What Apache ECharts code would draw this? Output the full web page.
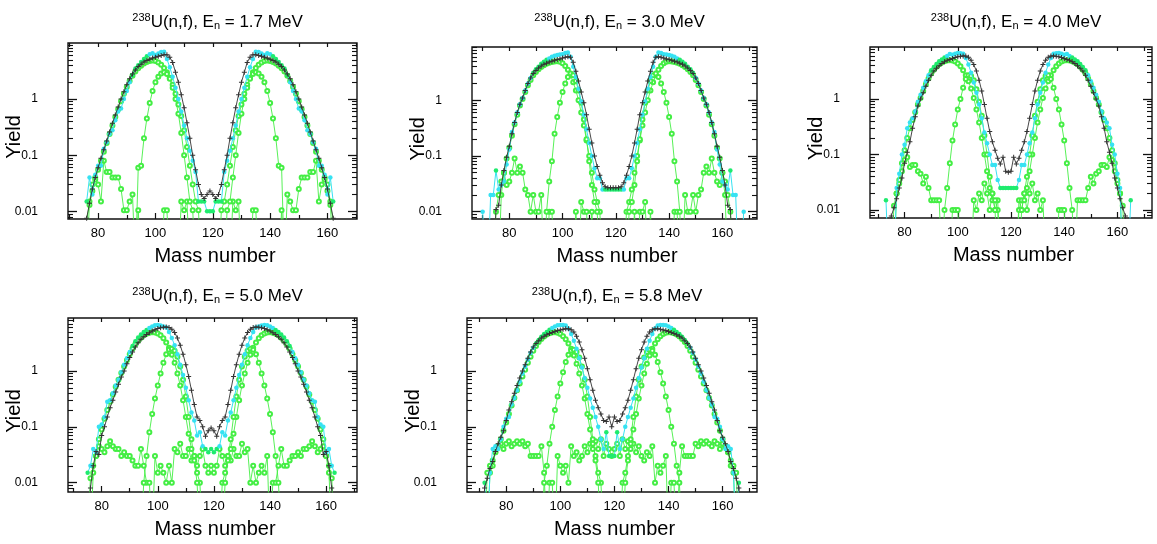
<!DOCTYPE html>
<html>
<head>
<meta charset="UTF-8">
<title>238U(n,f) mass yields</title>
<script src="https://cdn.jsdelivr.net/npm/echarts/dist/echarts.min.js"></script>
<style>
  html, body { margin: 0; padding: 0; background: #fff; }
  #main { width: 1157px; height: 544px; }
</style>
</head>
<body>
<div id="main"></div>
<script>
// neutron energy of each panel (MeV)
var energies = ['1.7', '3.0', '4.0', '5.0', '5.8'];

// axis ticks
var xMajorTicks = [80, 100, 120, 140, 160];
var xMinorTicks = [70, 90, 110, 130, 150, 170];
var xTopTicks = [70, 80, 90, 100, 110, 120, 130, 140, 150, 160, 170];
var yMajorTicks = [0.01, 0.1, 1];
var yMinorTicks = [0.008, 0.009, 0.02, 0.03, 0.04, 0.05, 0.06, 0.07, 0.08, 0.09,
  0.2, 0.3, 0.4, 0.5, 0.6, 0.7, 0.8, 0.9, 2, 3, 4, 5, 6, 7, 8, 9];

// yields per mass number A, starting at the given A; 0.001 = below the frame, null = no point
// ---- En = 1.7 MeV
var p1TotalStart = 75;
var p1Total = [0.001, 0.0075, 0.014, 0.025, 0.04, 0.06, 0.088, 0.125, 0.18, 0.26, 0.37, 0.52, 0.72, 1.0, 1.35, 1.8, 2.3, 2.8, 3.3, 3.8, 4.2, 4.6, 4.9, 5.15, 5.4, 5.6, 5.8, 6.0, 6.2, 6.2, 5.6, 4.5, 3.0, 2.0, 1.2, 0.7, 0.38, 0.2, 0.1, 0.055, 0.03, 0.02, 0.017, 0.02, 0.023,
  0.02, 0.017, 0.02, 0.03, 0.055, 0.1, 0.2, 0.38, 0.7, 1.2, 2.0, 3.0, 4.5, 5.6, 6.2, 6.2, 6.0, 5.8, 5.6, 5.4, 5.15, 4.9, 4.6, 4.2, 3.8, 3.3, 2.8, 2.3, 1.8, 1.35, 1.0, 0.72, 0.52, 0.37, 0.26, 0.18, 0.125, 0.088, 0.06, 0.04, 0.025, 0.014, 0.0075, 0.001];
var p1ExpStart = 76;
var p1Exp = [0.015, 0.04, 0.02, 0.045, 0.065, 0.065, 0.13, 0.17, 0.24, 0.28, 0.42, 0.6, 0.68, 1.0, 1.4, 2.0, 2.7, 3.5, 4.0, 4.6, 5.2, 5.8, 6.3, 6.6, 6.1, 6.5, 6.9, 7.0, 5.2, 3.7, 2.5, 1.6, 1.0, 0.6, 0.34, 0.2, 0.12, 0.08, 0.05,
  0.015, 0.015, 0.015, 0.01, 0.01, 0.01, 0.015, 0.015, 0.015,
  0.05, 0.08, 0.12, 0.2, 0.34, 0.6, 1.0, 1.6, 2.5, 3.7, 5.2, 7.0, 6.9, 6.5, 6.1, 6.6, 6.3, 5.8, 5.2, 4.6, 4.0, 3.5, 2.7, 2.0, 1.4, 1.0, 0.68, 0.6, 0.42, 0.28, 0.24, 0.17, 0.13, 0.065, 0.065, 0.045, 0.02, 0.04, 0.015];
var p1ExpGreen = [76, 92, 93, 94, 95, 96, 97, 115, 116, 117, 118, 119, 120, 121, 122, 123, 141, 142, 143, 144, 145, 146, 162];
var p1Std1Start = 93;
var p1Std1 = [0.001, 0.06, 0.065, 0.2, 0.45, 0.85, 1.4, 2.0, 2.5, 2.85, 3.0, 2.8, 2.3, 1.6, 1.0, 0.55, 0.25, 0.1, 0.04, 0.015, 0.0105, 0.001,
  null, null, null, null, null, null, null, null, null,
  0.001, 0.0105, 0.015, 0.04, 0.1, 0.25, 0.55, 1.0, 1.6, 2.3, 2.8, 3.0, 2.85, 2.5, 2.0, 1.4, 0.85, 0.45, 0.2, 0.065, 0.06, 0.001];
var p1Std2Start = 75;
var p1Std2 = [0.001, 0.007, 0.013, 0.023, 0.037, 0.055, 0.08, 0.115, 0.165, 0.24, 0.34, 0.48, 0.66, 0.92, 1.25, 1.65, 2.1, 2.6, 3.1, 3.55, 3.95, 4.3, 4.6, 4.8, 4.9, 4.8, 4.5, 4.1, 3.6, 3.0, 2.4, 1.8, 1.25, 0.8, 0.5, 0.28, 0.14, 0.065, 0.03, 0.015, 0.0105, 0.001,
  null, null, null, null, null,
  0.001, 0.0105, 0.015, 0.03, 0.065, 0.14, 0.28, 0.5, 0.8, 1.25, 1.8, 2.4, 3.0, 3.6, 4.1, 4.5, 4.8, 4.9, 4.8, 4.6, 4.3, 3.95, 3.55, 3.1, 2.6, 2.1, 1.65, 1.25, 0.92, 0.66, 0.48, 0.34, 0.24, 0.165, 0.115, 0.08, 0.055, 0.037, 0.023, 0.013, 0.007, 0.001];
var p1Std3Start = 76;
var p1Std3 = [0.001, 0.015, 0.03, 0.04, 0.03, 0.015, 0.08, 0.05, 0.05, 0.04, 0.04, 0.04, 0.025, 0.0105, 0.0105, 0.015, 0.02, 0.001, 0.0105, 0.001,
  null, null, null, null, null, null, 0.001, 0.0105, 0.0105, 0.001, null, null, 0.001, 0.015, 0.0105, 0.015, 0.001,
  null, null, null, null, null, null, null, null, null, null, null, null, null,
  0.001, 0.015, 0.0105, 0.015, 0.001, null, null, 0.001, 0.0105, 0.0105, 0.001, null, null, null, null, null, null,
  0.001, 0.0105, 0.001, 0.02, 0.015, 0.0105, 0.0105, 0.025, 0.04, 0.04, 0.04, 0.05, 0.05, 0.08, 0.015, 0.03, 0.04, 0.03, 0.015, 0.001];

// ---- En = 3.0 MeV
var p2TotalStart = 74;
var p2Total = [0.001, 0.011, 0.013, 0.03, 0.055, 0.095, 0.15, 0.25, 0.4, 0.6, 0.85, 1.1, 1.5, 2.0, 2.5, 3.0, 3.4, 3.8, 4.1, 4.4, 4.6, 4.85, 5.0, 5.2, 5.35, 5.5, 5.7, 5.9, 6.0, 5.9, 4.8, 3.3, 2.2, 1.4, 0.9, 0.55, 0.3, 0.17, 0.1, 0.065, 0.045, 0.033, 0.028, 0.027, 0.027, 0.027,
  0.027, 0.027, 0.028, 0.033, 0.045, 0.065, 0.1, 0.17, 0.3, 0.55, 0.9, 1.4, 2.2, 3.3, 4.8, 5.9, 6.0, 5.9, 5.7, 5.5, 5.35, 5.2, 5.0, 4.85, 4.6, 4.4, 4.1, 3.8, 3.4, 3.0, 2.5, 2.0, 1.5, 1.1, 0.85, 0.6, 0.4, 0.25, 0.15, 0.095, 0.055, 0.03, 0.013, 0.011, 0.001];
var p2ExpStart = 70;
var p2Exp = [0.01, 0.001, 0.001, 0.02, 0.02, 0.055, 0.025, 0.03, 0.035, 0.07, 0.13, 0.27, 0.4, 0.6, 0.85, 1.1, 1.5, 2.0, 2.5, 3.1, 3.6, 4.0, 4.5, 4.9, 5.3, 5.6, 6.0, 6.3, 6.5, 6.6, 6.7, 7.0, 7.2, 6.0, 4.0, 2.6, 1.6, 0.95, 0.55, 0.3, 0.17, 0.1, 0.06, 0.04, 0.04, 0.025, 0.025, 0.025, 0.025, 0.025,
  0.025, 0.025, 0.025, 0.025, 0.04, 0.04, 0.06, 0.1, 0.17, 0.3, 0.55, 0.95, 1.6, 2.6, 4.0, 6.0, 7.2, 7.0, 6.7, 6.6, 6.5, 6.3, 6.0, 5.6, 5.3, 4.9, 4.5, 4.0, 3.6, 3.1, 2.5, 2.0, 1.5, 1.1, 0.85, 0.6, 0.4, 0.27, 0.13, 0.07, 0.035, 0.03, 0.025, 0.055, 0.02, 0.02, 0.001, 0.001, 0.01];
var p2ExpGreen = [75, 89, 90, 91, 92, 93, 94, 116, 117, 118, 119, 120, 121, 122, 144, 145, 146, 147, 148, 149, 163];
var p2Std1Start = 93;
var p2Std1 = [0.001, 0.01, 0.035, 0.08, 0.25, 0.5, 0.9, 1.4, 2.0, 2.6, 3.0, 2.8, 2.2, 1.5, 0.9, 0.45, 0.2, 0.08, 0.03, 0.015, 0.01, 0.001,
  null, null, null, null, null, null, null, null, null,
  0.001, 0.01, 0.015, 0.03, 0.08, 0.2, 0.45, 0.9, 1.5, 2.2, 2.8, 3.0, 2.6, 2.0, 1.4, 0.9, 0.5, 0.25, 0.08, 0.035, 0.01, 0.001];
var p2Std2Start = 74;
var p2Std2 = [0.001, 0.01, 0.02, 0.035, 0.05, 0.09, 0.14, 0.23, 0.37, 0.55, 0.8, 1.05, 1.4, 1.85, 2.3, 2.8, 3.2, 3.6, 3.95, 4.25, 4.5, 4.7, 4.85, 4.95, 5.0, 4.9, 4.6, 4.1, 3.5, 2.8, 2.1, 1.5, 1.0, 0.6, 0.35, 0.19, 0.1, 0.05, 0.025, 0.015, 0.01, 0.001,
  null, null, null, null, null, null, null,
  0.001, 0.01, 0.015, 0.025, 0.05, 0.1, 0.19, 0.35, 0.6, 1.0, 1.5, 2.1, 2.8, 3.5, 4.1, 4.6, 4.9, 5.0, 4.95, 4.85, 4.7, 4.5, 4.25, 3.95, 3.6, 3.2, 2.8, 2.3, 1.85, 1.4, 1.05, 0.8, 0.55, 0.37, 0.23, 0.14, 0.09, 0.05, 0.035, 0.02, 0.01, 0.001];
var p2Std3Start = 76;
var p2Std3 = [0.001, 0.02, 0.05, 0.03, 0.035, 0.05, 0.09, 0.05, 0.065, 0.05, 0.025, 0.02, 0.01, 0.02, 0.01, 0.01, 0.02, 0.001, 0.001, 0.01, 0.01, 0.001,
  null, null, null, null, null, null, 0.001, 0.01, 0.001, 0.015, 0.01, 0.01, 0.001, 0.01, 0.001,
  null, null, null, null, null, null, null, null, null, null, null, null, null,
  0.001, 0.01, 0.001, 0.01, 0.01, 0.015, 0.001, 0.01, 0.001, null, null, null, null, null, null,
  0.001, 0.01, 0.01, 0.001, 0.001, 0.02, 0.01, 0.01, 0.02, 0.01, 0.02, 0.025, 0.05, 0.065, 0.05, 0.09, 0.05, 0.035, 0.03, 0.05, 0.02, 0.001];

// ---- En = 4.0 MeV
var p3TotalStart = 74;
var p3Total = [0.001, 0.0078, 0.011, 0.016, 0.025, 0.038, 0.07, 0.11, 0.17, 0.3, 0.48, 0.75, 1.0, 1.3, 1.7, 2.2, 2.7, 3.2, 3.6, 4.0, 4.4, 4.7, 5.0, 5.2, 5.4, 5.6, 5.8, 5.9, 6.0, 6.0, 5.7, 5.0, 4.2, 3.2, 2.2, 1.4, 0.8, 0.45, 0.26, 0.17, 0.12, 0.086, 0.068, 0.09, 0.05, 0.048,
  0.05, 0.09, 0.068, 0.086, 0.12, 0.17, 0.26, 0.45, 0.8, 1.4, 2.2, 3.2, 4.2, 5.0, 5.7, 6.0, 6.0, 5.9, 5.8, 5.6, 5.4, 5.2, 5.0, 4.7, 4.4, 4.0, 3.6, 3.2, 2.7, 2.2, 1.7, 1.3, 1.0, 0.75, 0.48, 0.3, 0.17, 0.11, 0.07, 0.038, 0.025, 0.016, 0.011, 0.0078, 0.001];
var p3ExpStart = 73;
var p3Exp = [0.015, 0.001, 0.001, 0.001, 0.025, 0.045, 0.1, 0.15, 0.3, 0.38, 0.45, 0.6, 0.9, 1.2, 1.6, 2.1, 2.7, 3.3, 3.8, 4.3, 4.8, 5.2, 5.6, 6.0, 6.5, 6.3, 6.6, 6.8, 6.7, 6.6, 5.5, 4.2, 3.0, 2.0, 1.3, 0.8, 0.45, 0.25, 0.16, 0.1, 0.065, 0.065, 0.035, 0.025, 0.025, 0.025, 0.025,
  0.025, 0.025, 0.025, 0.035, 0.065, 0.065, 0.1, 0.16, 0.25, 0.45, 0.8, 1.3, 2.0, 3.0, 4.2, 5.5, 6.6, 6.7, 6.8, 6.6, 6.3, 6.5, 6.0, 5.6, 5.2, 4.8, 4.3, 3.8, 3.3, 2.7, 2.1, 1.6, 1.2, 0.9, 0.6, 0.45, 0.38, 0.3, 0.15, 0.1, 0.045, 0.025, 0.001, 0.001, 0.001, 0.015];
var p3ExpGreen = [73, 90, 91, 92, 93, 94, 95, 116, 117, 118, 119, 120, 121, 122, 143, 144, 145, 146, 147, 148, 165];
var p3Std1Start = 94;
var p3Std1 = [0.001, 0.01, 0.025, 0.07, 0.18, 0.35, 0.65, 1.0, 1.6, 2.3, 2.7, 2.6, 2.2, 1.5, 0.9, 0.5, 0.22, 0.1, 0.04, 0.02, 0.01, 0.001,
  null, null, null, null, null, null, null,
  0.001, 0.01, 0.02, 0.04, 0.1, 0.22, 0.5, 0.9, 1.5, 2.2, 2.6, 2.7, 2.3, 1.6, 1.0, 0.65, 0.35, 0.18, 0.07, 0.025, 0.01, 0.001];
var p3Std2Start = 75;
var p3Std2 = [0.001, 0.012, 0.02, 0.035, 0.07, 0.12, 0.2, 0.3, 0.42, 0.58, 0.8, 1.05, 1.4, 1.85, 2.35, 2.9, 3.4, 3.85, 4.25, 4.55, 4.8, 4.95, 5.0, 4.95, 4.75, 4.4, 3.9, 3.3, 2.7, 2.1, 1.55, 1.05, 0.65, 0.38, 0.2, 0.1, 0.05, 0.025, 0.015, 0.015, 0.01, 0.001,
  null, null, null, null, null,
  0.001, 0.01, 0.015, 0.015, 0.025, 0.05, 0.1, 0.2, 0.38, 0.65, 1.05, 1.55, 2.1, 2.7, 3.3, 3.9, 4.4, 4.75, 4.95, 5.0, 4.95, 4.8, 4.55, 4.25, 3.85, 3.4, 2.9, 2.35, 1.85, 1.4, 1.05, 0.8, 0.58, 0.42, 0.3, 0.2, 0.12, 0.07, 0.035, 0.02, 0.012, 0.001];
var p3Std3Start = 76;
var p3Std3 = [0.001, 0.02, 0.03, 0.05, 0.08, 0.09, 0.06, 0.065, 0.065, 0.05, 0.045, 0.03, 0.04, 0.025, 0.015, 0.015, 0.015, 0.015, 0.001, null, null, 0.001, 0.01, 0.01, 0.01, 0.001, null, null, null,
  0.001, 0.015, 0.01, 0.02, 0.015, 0.03, 0.02, 0.01, 0.02, 0.01, 0.015, 0.001, null, null, null,
  null, null, 0.001, 0.015, 0.01, 0.02, 0.01, 0.02, 0.03, 0.015, 0.02, 0.01, 0.015, 0.001, null, null, null,
  0.001, 0.01, 0.01, 0.01, 0.001, null, null, 0.001, 0.015, 0.015, 0.015, 0.015, 0.025, 0.04, 0.03, 0.045, 0.05, 0.065, 0.065, 0.06, 0.09, 0.08, 0.05, 0.03, 0.02, 0.001];

// ---- En = 5.0 MeV
var p4TotalStart = 75;
var p4Total = [0.001, 0.008, 0.02, 0.036, 0.032, 0.07, 0.1, 0.15, 0.22, 0.3, 0.42, 0.58, 0.78, 1.0, 1.35, 1.75, 2.2, 2.7, 3.2, 3.7, 4.1, 4.5, 4.85, 5.2, 5.5, 5.75, 5.95, 6.1, 6.15, 6.0, 5.6, 4.9, 3.9, 2.9, 2.0, 1.3, 0.8, 0.45, 0.25, 0.15, 0.13, 0.1, 0.068, 0.085, 0.095,
  0.085, 0.068, 0.1, 0.13, 0.15, 0.25, 0.45, 0.8, 1.3, 2.0, 2.9, 3.9, 4.9, 5.6, 6.0, 6.15, 6.1, 5.95, 5.75, 5.5, 5.2, 4.85, 4.5, 4.1, 3.7, 3.2, 2.7, 2.2, 1.75, 1.35, 1.0, 0.78, 0.58, 0.42, 0.3, 0.22, 0.15, 0.1, 0.07, 0.032, 0.036, 0.02, 0.008, 0.001];
var p4ExpStart = 75;
var p4Exp = [0.015, 0.02, 0.04, 0.035, 0.1, 0.11, 0.15, 0.28, 0.3, 0.4, 0.55, 0.7, 0.95, 1.3, 1.7, 2.2, 2.8, 3.4, 4.0, 4.5, 5.0, 5.4, 5.9, 6.3, 6.6, 6.7, 6.5, 6.3, 6.0, 5.0, 3.9, 2.9, 2.0, 1.3, 0.85, 0.5, 0.3, 0.18, 0.13, 0.07, 0.08, 0.045, 0.04, 0.035, 0.04,
  0.035, 0.04, 0.045, 0.08, 0.07, 0.13, 0.18, 0.3, 0.5, 0.85, 1.3, 2.0, 2.9, 3.9, 5.0, 6.0, 6.3, 6.5, 6.7, 6.6, 6.3, 5.9, 5.4, 5.0, 4.5, 4.0, 3.4, 2.8, 2.2, 1.7, 1.3, 0.95, 0.7, 0.55, 0.4, 0.3, 0.28, 0.15, 0.11, 0.1, 0.035, 0.04, 0.02, 0.015];
var p4ExpGreen = [75, 91, 92, 93, 94, 95, 96, 117, 118, 119, 120, 121, 142, 143, 144, 145, 146, 147, 163];
var p4Std1Start = 94;
var p4Std1 = [0.001, 0.01, 0.03, 0.08, 0.17, 0.32, 0.55, 0.9, 1.4, 2.0, 2.4, 2.5, 2.3, 1.8, 1.2, 0.7, 0.35, 0.15, 0.06, 0.025, 0.01, 0.001,
  null, null, null, null, null, null, null,
  0.001, 0.01, 0.025, 0.06, 0.15, 0.35, 0.7, 1.2, 1.8, 2.3, 2.5, 2.4, 2.0, 1.4, 0.9, 0.55, 0.32, 0.17, 0.08, 0.03, 0.01, 0.001];
var p4Std2Start = 75;
var p4Std2 = [0.001, 0.012, 0.02, 0.03, 0.06, 0.09, 0.14, 0.2, 0.28, 0.38, 0.52, 0.7, 0.92, 1.2, 1.55, 2.0, 2.5, 3.0, 3.5, 3.95, 4.35, 4.65, 4.85, 4.95, 4.9, 4.7, 4.35, 3.85, 3.25, 2.6, 1.95, 1.4, 0.9, 0.55, 0.3, 0.15, 0.075, 0.04, 0.03, 0.015, 0.01, 0.001,
  null, null, null, null, null,
  0.001, 0.01, 0.015, 0.03, 0.04, 0.075, 0.15, 0.3, 0.55, 0.9, 1.4, 1.95, 2.6, 3.25, 3.85, 4.35, 4.7, 4.9, 4.95, 4.85, 4.65, 4.35, 3.95, 3.5, 3.0, 2.5, 2.0, 1.55, 1.2, 0.92, 0.7, 0.52, 0.38, 0.28, 0.2, 0.14, 0.09, 0.06, 0.03, 0.02, 0.012, 0.001];
var p4Std3Start = 76;
var p4Std3 = [0.001, 0.015, 0.03, 0.045, 0.04, 0.035, 0.045, 0.055, 0.045, 0.04, 0.04, 0.03, 0.035, 0.03, 0.03, 0.025, 0.02, 0.02, 0.04, 0.02, 0.01, 0.01, 0.001, 0.03, 0.015, 0.02, 0.015, 0.01, 0.02, 0.01, 0.04, 0.035, 0.05, 0.03, 0.03, 0.04, 0.025, 0.03, 0.02, 0.03, 0.04, 0.02, 0.015, 0.02,
  0.015, 0.02, 0.04, 0.03, 0.02, 0.03, 0.025, 0.04, 0.03, 0.03, 0.05, 0.035, 0.04, 0.01, 0.02, 0.01, 0.015, 0.02, 0.015, 0.03, 0.001, 0.01, 0.01, 0.02, 0.04, 0.02, 0.02, 0.025, 0.03, 0.03, 0.035, 0.03, 0.04, 0.04, 0.045, 0.055, 0.045, 0.035, 0.04, 0.045, 0.03, 0.015, 0.001];

// ---- En = 5.8 MeV
var p5TotalStart = 71;
var p5Total = [0.001, 0.008, 0.012, 0.018, 0.024, 0.036, 0.05, 0.065, 0.085, 0.13, 0.2, 0.28, 0.4, 0.55, 0.75, 1.0, 1.3, 1.7, 2.2, 2.7, 3.1, 3.5, 3.9, 4.2, 4.45, 4.7, 4.9, 5.1, 5.3, 5.45, 5.6, 5.7, 5.7, 5.5, 5.0, 4.2, 3.3, 2.4, 1.7, 1.1, 0.7, 0.45, 0.3, 0.22, 0.17, 0.13, 0.125, 0.15, 0.1,
  0.15, 0.125, 0.13, 0.17, 0.22, 0.3, 0.45, 0.7, 1.1, 1.7, 2.4, 3.3, 4.2, 5.0, 5.5, 5.7, 5.7, 5.6, 5.45, 5.3, 5.1, 4.9, 4.7, 4.45, 4.2, 3.9, 3.5, 3.1, 2.7, 2.2, 1.7, 1.3, 1.0, 0.75, 0.55, 0.4, 0.28, 0.2, 0.13, 0.085, 0.065, 0.05, 0.036, 0.024, 0.018, 0.012, 0.008, 0.001];
var p5ExpStart = 72;
var p5Exp = [0.01, 0.001, 0.015, 0.04, 0.045, 0.04, 0.06, 0.1, 0.14, 0.15, 0.25, 0.33, 0.45, 0.65, 0.9, 1.2, 1.6, 2.1, 2.6, 3.1, 3.6, 4.1, 4.6, 5.0, 5.5, 5.9, 6.3, 6.6, 6.7, 6.7, 6.5, 5.8, 4.6, 3.5, 2.5, 1.7, 1.15, 0.75, 0.5, 0.32, 0.22, 0.15, 0.1, 0.06, 0.04, 0.08, 0.03, 0.03,
  0.03, 0.08, 0.04, 0.06, 0.1, 0.15, 0.22, 0.32, 0.5, 0.75, 1.15, 1.7, 2.5, 3.5, 4.6, 5.8, 6.5, 6.7, 6.7, 6.6, 6.3, 5.9, 5.5, 5.0, 4.6, 4.1, 3.6, 3.1, 2.6, 2.1, 1.6, 1.2, 0.9, 0.65, 0.45, 0.33, 0.25, 0.15, 0.14, 0.1, 0.06, 0.04, 0.045, 0.04, 0.015, 0.001, 0.01];
var p5ExpGreen = [72, 91, 92, 93, 94, 95, 96, 117, 118, 119, 120, 121, 142, 143, 144, 145, 146, 147, 166];
var p5Std1Start = 93;
var p5Std1 = [0.001, 0.01, 0.02, 0.05, 0.1, 0.2, 0.35, 0.6, 0.95, 1.45, 1.95, 2.3, 2.4, 2.2, 1.75, 1.2, 0.7, 0.35, 0.15, 0.06, 0.025, 0.01, 0.001,
  null, null, null, null, null, null, null,
  0.001, 0.01, 0.025, 0.06, 0.15, 0.35, 0.7, 1.2, 1.75, 2.2, 2.4, 2.3, 1.95, 1.45, 0.95, 0.6, 0.35, 0.2, 0.1, 0.05, 0.02, 0.01, 0.001];
var p5Std2Start = 72;
var p5Std2 = [0.001, 0.015, 0.02, 0.025, 0.035, 0.045, 0.06, 0.085, 0.12, 0.17, 0.24, 0.33, 0.45, 0.6, 0.8, 1.05, 1.4, 1.8, 2.3, 2.8, 3.3, 3.75, 4.15, 4.5, 4.75, 4.9, 4.95, 4.85, 4.6, 4.2, 3.7, 3.1, 2.5, 1.9, 1.35, 0.9, 0.55, 0.32, 0.17, 0.09, 0.05, 0.03, 0.015, 0.01, 0.001,
  null, null, null, null, null,
  0.001, 0.01, 0.015, 0.03, 0.05, 0.09, 0.17, 0.32, 0.55, 0.9, 1.35, 1.9, 2.5, 3.1, 3.7, 4.2, 4.6, 4.85, 4.95, 4.9, 4.75, 4.5, 4.15, 3.75, 3.3, 2.8, 2.3, 1.8, 1.4, 1.05, 0.8, 0.6, 0.45, 0.33, 0.24, 0.17, 0.12, 0.085, 0.06, 0.045, 0.035, 0.025, 0.02, 0.015, 0.001];
var p5Std3Start = 73;
var p5Std3 = [0.001, 0.015, 0.02, 0.035, 0.045, 0.05, 0.04, 0.05, 0.055, 0.045, 0.05, 0.055, 0.05, 0.055, 0.045, 0.05, 0.03, 0.03, 0.03, 0.03, 0.045, 0.015, 0.001, 0.01, 0.01, 0.001, 0.03, 0.02, 0.015, 0.02, 0.01, 0.045, 0.03, 0.035, 0.025, 0.03, 0.045, 0.035, 0.05, 0.04, 0.055, 0.04, 0.06, 0.03, 0.05, 0.04, 0.03,
  0.04, 0.05, 0.03, 0.06, 0.04, 0.055, 0.04, 0.05, 0.035, 0.045, 0.03, 0.025, 0.035, 0.03, 0.045, 0.01, 0.02, 0.015, 0.02, 0.03, 0.001, 0.01, 0.01, 0.001, 0.015, 0.045, 0.03, 0.03, 0.03, 0.03, 0.05, 0.045, 0.055, 0.05, 0.055, 0.05, 0.045, 0.055, 0.05, 0.04, 0.05, 0.045, 0.035, 0.02, 0.015, 0.001];

// ---------------------------------------------------------------------
var FONT = 'Liberation Sans';
var C_BLACK = '#333333';
var C_CYAN = '#36e2f2';
var C_GREEN = '#44ee44';
var C_GREEN_DOT = '#1feb6e';

// frame of each panel and its axis limits
var layout = [
  { left: 68,  top: 43, width: 289, height: 176, xMin: 69.5, xMax: 170.3, yMin: 0.0073, yMax: 10 },
  { left: 472, top: 47, width: 285, height: 172, xMin: 66,   xMax: 173,   yMin: 0.0074, yMax: 9 },
  { left: 870, top: 47, width: 282, height: 171, xMin: 67,   xMax: 173,   yMin: 0.0072, yMax: 8.7 },
  { left: 68,  top: 318, width: 289, height: 174, xMin: 68,  xMax: 171,   yMin: 0.0068, yMax: 8.9 },
  { left: 467, top: 318, width: 290, height: 174, xMin: 65.5, xMax: 172.7, yMin: 0.0068, yMax: 8.9 }
];

var panels = [
  { total: [p1TotalStart, p1Total], exp: [p1ExpStart, p1Exp], green: p1ExpGreen, s1: [p1Std1Start, p1Std1], s2: [p1Std2Start, p1Std2], s3: [p1Std3Start, p1Std3] },
  { total: [p2TotalStart, p2Total], exp: [p2ExpStart, p2Exp], green: p2ExpGreen, s1: [p2Std1Start, p2Std1], s2: [p2Std2Start, p2Std2], s3: [p2Std3Start, p2Std3] },
  { total: [p3TotalStart, p3Total], exp: [p3ExpStart, p3Exp], green: p3ExpGreen, s1: [p3Std1Start, p3Std1], s2: [p3Std2Start, p3Std2], s3: [p3Std3Start, p3Std3] },
  { total: [p4TotalStart, p4Total], exp: [p4ExpStart, p4Exp], green: p4ExpGreen, s1: [p4Std1Start, p4Std1], s2: [p4Std2Start, p4Std2], s3: [p4Std3Start, p4Std3] },
  { total: [p5TotalStart, p5Total], exp: [p5ExpStart, p5Exp], green: p5ExpGreen, s1: [p5Std1Start, p5Std1], s2: [p5Std2Start, p5Std2], s3: [p5Std3Start, p5Std3] }
];

function toPoints(src, greenList) {
  var start = src[0];
  return src[1].map(function (v, i) {
    var a = start + i;
    var val = [a, v === null ? '-' : v];
    if (greenList && greenList.indexOf(a) >= 0) {
      return { value: val, itemStyle: { color: C_GREEN_DOT } };
    }
    return val;
  });
}

var plusPath = 'path://M2,0H3V2H5V3H3V5H2V3H0V2H2Z';

var grids = [], xAxes = [], yAxes = [], series = [], titles = [];

layout.forEach(function (l, i) {
  grids.push({
    left: l.left, top: l.top, width: l.width, height: l.height,
    containLabel: false, outerBoundsMode: 'none',
    show: true, borderColor: '#111', borderWidth: 1.4, backgroundColor: 'transparent'
  });

  var xBase = { type: 'value', gridIndex: i, min: l.xMin, max: l.xMax,
    axisLine: { show: false }, splitLine: { show: false } };
  xAxes.push(Object.assign({}, xBase, {
    position: 'bottom',
    axisTick: { inside: true, length: 6, customValues: xMajorTicks, lineStyle: { color: '#111', width: 1.2 } },
    axisLabel: { customValues: xMajorTicks, margin: 8, fontSize: 13, color: '#000', fontFamily: FONT },
    name: 'Mass number', nameLocation: 'middle', nameGap: 27, nameMoveOverlap: false,
    nameTextStyle: { fontSize: 20, color: '#000', fontFamily: FONT, padding: [0, 0, 0, 5] }
  }));
  xAxes.push(Object.assign({}, xBase, {
    position: 'bottom',
    axisTick: { inside: true, length: 4, customValues: xMinorTicks, lineStyle: { color: '#111', width: 1.2 } },
    axisLabel: { show: false }
  }));
  xAxes.push(Object.assign({}, xBase, {
    position: 'top',
    axisTick: { inside: true, length: 4, customValues: xTopTicks, lineStyle: { color: '#111', width: 1.2 } },
    axisLabel: { show: false }
  }));

  var yBase = { type: 'log', logBase: 10, gridIndex: i, min: l.yMin, max: l.yMax,
    axisLine: { show: false }, splitLine: { show: false }, minorSplitLine: { show: false } };
  yAxes.push(Object.assign({}, yBase, {
    position: 'left',
    axisTick: { inside: true, length: 9, customValues: yMajorTicks, lineStyle: { color: '#111', width: 1.3 } },
    axisLabel: { customValues: yMajorTicks, margin: 30, fontSize: 12, color: '#000', fontFamily: FONT,
      formatter: function (v) { return String(parseFloat(Number(v).toPrecision(3))); } },
    name: 'Yield', nameLocation: 'middle', nameGap: 44, nameRotate: 90, nameMoveOverlap: false,
    nameTextStyle: { fontSize: 20, color: '#000', fontFamily: FONT, padding: [0, 12, 0, 0] }
  }));
  yAxes.push(Object.assign({}, yBase, {
    position: 'left',
    axisTick: { inside: true, length: 5, customValues: yMinorTicks, lineStyle: { color: '#111', width: 1.1 } },
    axisLabel: { show: false }
  }));
  yAxes.push(Object.assign({}, yBase, {
    position: 'right',
    axisTick: { inside: true, length: 9, customValues: yMajorTicks, lineStyle: { color: '#111', width: 1.3 } },
    axisLabel: { show: false }
  }));
  yAxes.push(Object.assign({}, yBase, {
    position: 'right',
    axisTick: { inside: true, length: 5, customValues: yMinorTicks, lineStyle: { color: '#111', width: 1.1 } },
    axisLabel: { show: false }
  }));

  titles.push({
    text: '{sup|238}U(n,f), E{sub|n} = ' + energies[i] + ' MeV',
    left: l.left + l.width / 2, top: i < 3 ? 7 : 281, textAlign: 'center',
    textStyle: { fontSize: 17, fontWeight: 'normal', color: '#000', fontFamily: FONT,
      rich: {
        sup: { fontSize: 11, padding: [0, 0, 9, 0], fontFamily: FONT, color: '#000' },
        sub: { fontSize: 11, padding: [8, 0, 0, 0], fontFamily: FONT, color: '#000' }
      } }
  });

  var p = panels[i];
  var common = { type: 'line', xAxisIndex: 3 * i, yAxisIndex: 4 * i, silent: true, animation: false, clip: true };
  ['s3', 's2', 's1'].forEach(function (k) {
    series.push(Object.assign({}, common, {
      data: toPoints(p[k]),
      symbol: 'emptyCircle', symbolSize: 4,
      lineStyle: { color: C_GREEN, width: 0.9 },
      itemStyle: { color: C_GREEN, borderColor: C_GREEN, borderWidth: 0.9 },
      z: 2
    }));
  });
  series.push(Object.assign({}, common, {
    data: toPoints(p.exp, p.green),
    symbol: 'circle', symbolSize: 4.5,
    lineStyle: { color: C_CYAN, width: 1 },
    itemStyle: { color: C_CYAN },
    z: 3
  }));
  series.push(Object.assign({}, common, {
    data: toPoints(p.total),
    symbol: plusPath, symbolSize: 5,
    lineStyle: { color: C_BLACK, width: 0.9 },
    itemStyle: { color: C_BLACK },
    z: 4
  }));
});

var chart = echarts.init(document.getElementById('main'), null, { renderer: 'canvas' });
chart.setOption({
  animation: false,
  backgroundColor: '#fff',
  textStyle: { fontFamily: FONT },
  title: titles,
  grid: grids,
  xAxis: xAxes,
  yAxis: yAxes,
  series: series
});
</script>
</body>
</html>
